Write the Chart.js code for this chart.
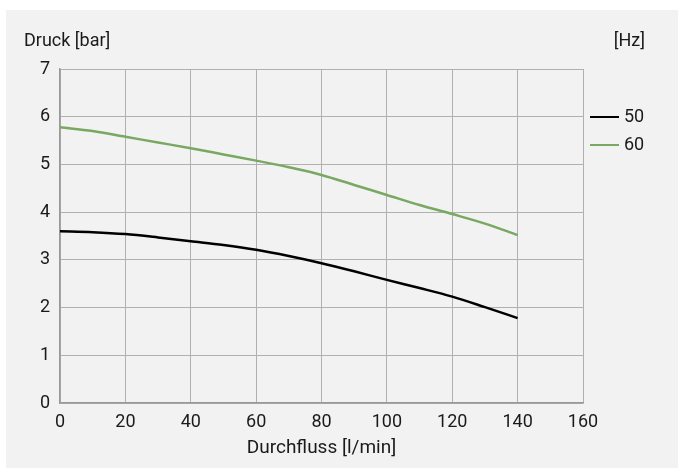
<!DOCTYPE html>
<html>
<head>
<meta charset="utf-8">
<script src="https://cdn.jsdelivr.net/npm/chart.js@4"></script>
<style>
  html, body { margin: 0; padding: 0; background: #fff; }
  #wrap { width: 678px; height: 468px; position: relative; }
</style>
</head>
<body>
<div id="wrap"><canvas id="myChart" width="678" height="468"></canvas></div>
<script>
// Durchfluss [l/min]
const durchfluss = [0, 10, 20, 30, 40, 50, 60, 70, 80, 90, 100, 110, 120, 130, 140];
// Druck [bar] bei 50 Hz / 60 Hz
const druck50 = [3.60, 3.58, 3.54, 3.47, 3.39, 3.31, 3.21, 3.08, 2.93, 2.76, 2.58, 2.41, 2.23, 2.01, 1.78];
const druck60 = [5.78, 5.70, 5.58, 5.46, 5.34, 5.21, 5.08, 4.94, 4.78, 4.57, 4.36, 4.15, 3.96, 3.76, 3.52];
const xTicks = [0, 20, 40, 60, 80, 100, 120, 140, 160];
const yTicks = [0, 1, 2, 3, 4, 5, 6, 7];

const FONT = '"Roboto", sans-serif';

const punkte = (werte) => werte.map((v, i) => ({x: durchfluss[i], y: v}));

// Hintergrund + Beschriftungen + Legende
const deko = {
  id: 'deko',
  beforeDraw(chart) {
    const c = chart.ctx;
    c.save();
    c.fillStyle = '#ffffff';
    c.fillRect(0, 0, chart.width, chart.height);
    c.fillStyle = '#f2f2f2';
    c.fillRect(6, 10, chart.width - 6, chart.height - 10);
    c.restore();
  },
  afterDraw(chart) {
    const c = chart.ctx;
    c.save();
    c.font = '18px ' + FONT;
    c.fillStyle = '#1a1a1a';
    c.textBaseline = 'middle';
    c.textAlign = 'left';
    c.fillText('Druck [bar]', 24, 41);
    c.textAlign = 'right';
    c.fillText('[Hz]', 645, 41);
    c.textAlign = 'left';
    chart.data.datasets.forEach((ds, i) => {
      const y = 117 + i * 28;
      c.strokeStyle = ds.borderColor;
      c.lineWidth = 2;
      c.beginPath();
      c.moveTo(590, y);
      c.lineTo(619, y);
      c.stroke();
      c.fillText(ds.label, 624, y);
    });
    c.restore();
  }
};

new Chart(document.getElementById('myChart'), {
  type: 'line',
  data: {
    datasets: [{
      label: '50',
      data: punkte(druck50),
      borderColor: '#000000',
      borderWidth: 2.5,
      pointRadius: 0,
      cubicInterpolationMode: 'monotone'
    }, {
      label: '60',
      data: punkte(druck60),
      borderColor: '#78a862',
      borderWidth: 2.5,
      pointRadius: 0,
      cubicInterpolationMode: 'monotone'
    }]
  },
  plugins: [deko],
  options: {
    responsive: false,
    animation: false,
    layout: { padding: { top: 69, right: 95, left: 0, bottom: 0 } },
    plugins: { legend: { display: false }, tooltip: { enabled: false } },
    scales: {
      x: {
        type: 'linear',
        min: 0, max: 160,
        afterBuildTicks: (s) => { s.ticks = xTicks.map(v => ({value: v})); },
        afterFit: (s) => { s.height = 65; },
        grid: { color: '#b0b0b0', lineWidth: 1, drawTicks: false },
        border: { color: '#999999', width: 1.5 },
        ticks: { color: '#1a1a1a', font: { family: FONT, size: 18 }, padding: 9, maxRotation: 0 },
        title: { display: true, text: 'Durchfluss [l/min]', color: '#1a1a1a', font: { family: FONT, size: 19 }, padding: { top: 0, bottom: 8 } }
      },
      y: {
        min: 0, max: 7,
        afterBuildTicks: (s) => { s.ticks = yTicks.map(v => ({value: v})); },
        afterFit: (s) => { s.width = 60; },
        grid: { color: '#b0b0b0', lineWidth: 1, drawTicks: false },
        border: { color: '#999999', width: 1.5 },
        ticks: { color: '#1a1a1a', font: { family: FONT, size: 18 }, padding: 10 }
      }
    }
  }
});
</script>
</body>
</html>
